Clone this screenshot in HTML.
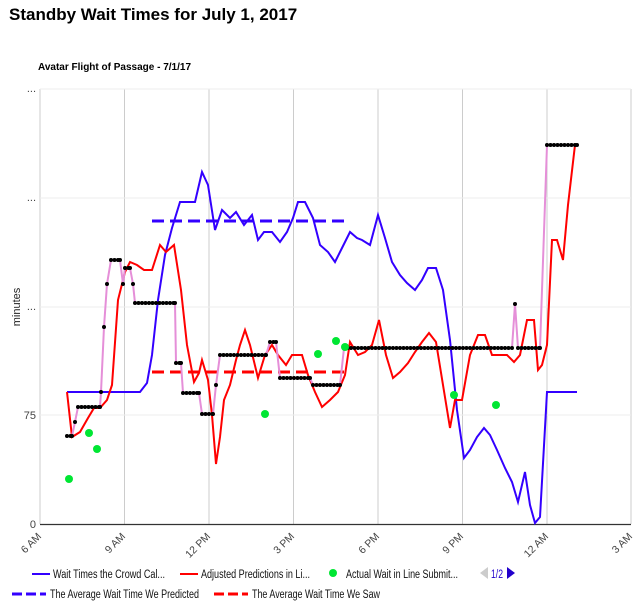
<!DOCTYPE html>
<html><head><meta charset="utf-8"><style>
body{margin:0;background:#fff;font-family:"Liberation Sans",Arial,sans-serif}
</style></head><body>
<svg id="s" width="644" height="607" xmlns="http://www.w3.org/2000/svg" font-family="Liberation Sans, Arial, sans-serif">
<rect width="644" height="607" fill="#fff"/>
<text x="9" y="20" font-size="17" font-weight="bold" fill="#000">Standby Wait Times for July 1, 2017</text>
<text x="38" y="70" font-size="10" font-weight="bold" fill="#000">Avatar Flight of Passage - 7/1/17</text>
<g stroke="#ccc" stroke-width="1">
<line x1="40" y1="89" x2="40" y2="524"/>
<line x1="124.5" y1="89" x2="124.5" y2="524"/>
<line x1="209" y1="89" x2="209" y2="524"/>
<line x1="293.5" y1="89" x2="293.5" y2="524"/>
<line x1="378" y1="89" x2="378" y2="524"/>
<line x1="462.5" y1="89" x2="462.5" y2="524"/>
<line x1="547" y1="89" x2="547" y2="524"/>
<line x1="631" y1="89" x2="631" y2="524"/>
</g>
<g stroke="#eee"><line x1="40" y1="89" x2="631" y2="89"/><line x1="40" y1="198" x2="631" y2="198"/><line x1="40" y1="307" x2="631" y2="307"/><line x1="40" y1="415" x2="631" y2="415"/></g>
<line x1="40" y1="524.5" x2="631" y2="524.5" stroke="#333" stroke-width="1.2"/>
<g font-size="11" fill="#444" text-anchor="end">
<text x="36" y="92">...</text><text x="36" y="201">...</text><text x="36" y="310">...</text>
<text x="36" y="419">75</text><text x="36" y="528">0</text>
</g>
<text transform="translate(20,307) rotate(-90)" font-size="11" fill="#222" text-anchor="middle">minutes</text>
<g font-size="10.5" fill="#444" text-anchor="end">
<text transform="translate(42,537) rotate(-45)">6 AM</text>
<text transform="translate(126,537) rotate(-45)">9 AM</text>
<text transform="translate(211,537) rotate(-45)">12 PM</text>
<text transform="translate(295,537) rotate(-45)">3 PM</text>
<text transform="translate(380,537) rotate(-45)">6 PM</text>
<text transform="translate(464,537) rotate(-45)">9 PM</text>
<text transform="translate(549,537) rotate(-45)">12 AM</text>
<text transform="translate(633,537) rotate(-45)">3 AM</text>
</g>
<line x1="152" y1="221" x2="350" y2="221" stroke="#3300ff" stroke-width="3" stroke-dasharray="12,6"/>
<line x1="152" y1="372" x2="350" y2="372" stroke="#ff0000" stroke-width="3" stroke-dasharray="12,6"/>
<polyline fill="none" stroke="#3300ff" stroke-width="2" points="67,392 140,392 147,383 152,355 158,300 165,255 172,228 180,202 195,202 202,172 208,185 215,230 222,210 230,218 236,212 244,225 252,215 258,240 264,232 272,232 280,242 287,232 293,218 298,202 305,202 313,218 320,245 328,252 335,262 342,248 350,232 357,238 362,240 370,245 378,215 385,238 392,262 400,275 407,283 415,290 422,280 428,268 436,268 443,290 450,340 457,410 464,458 470,450 477,437 484,428 490,435 497,450 505,468 512,482 518,502 525,472 530,505 535,523 540,517 547,392 577,392"/>
<polyline fill="none" stroke="#ff0000" stroke-width="2" points="67,392 72,437 80,432 88,418 94,408 100,408 107,400 112,385 118,300 125,272 130,262 137,265 144,270 152,270 160,245 166,252 174,245 181,290 187,345 194,382 199,373 202,360 208,380 212,415 216,464 220,437 224,400 230,385 236,360 240,345 245,330 250,345 258,378 265,355 272,345 278,355 286,365 292,355 302,355 308,375 315,392 322,407 330,400 338,392 345,375 350,342 358,355 365,352 372,345 379,320 386,355 393,378 400,372 408,363 415,352 422,342 429,333 436,342 443,385 450,428 455,400 462,400 470,355 478,335 485,335 492,355 500,355 507,355 514,362 520,355 527,320 534,320 538,370 542,365 547,345 552,240 557,240 563,260 568,205 575,145"/>
<polyline id="pk" fill="none" stroke="#e58fd8" stroke-width="2" points="67,436 72,436 75,422 78,407 100,407 101,392 104,327 107,284 111,260 120,260 123,284 125,268 130,268 133,284 135,303 175,303 176,363 181,363 183,393 199,393 202,414 213,414 216,385 220,355 266,355 270,342 276,342 280,378 310,378 313,385 340,385 344,348 512,348 515,304 518,348 540,348 547,145 577,145"/>
<g id="dots" fill="#000"></g>
<g fill="#00e633">
<circle cx="69" cy="479" r="4"/><circle cx="89" cy="433" r="4"/><circle cx="97" cy="449" r="4"/><circle cx="265" cy="414" r="4"/><circle cx="318" cy="354" r="4"/><circle cx="336" cy="341" r="4"/><circle cx="345" cy="347" r="4"/><circle cx="454" cy="395" r="4"/><circle cx="496" cy="405" r="4"/>
</g>
<g font-size="11.5" fill="#111">
<line x1="32" y1="574" x2="50" y2="574" stroke="#3300ff" stroke-width="2"/>
<text x="53" y="578" textLength="112" lengthAdjust="spacingAndGlyphs">Wait Times the Crowd Cal...</text>
<line x1="180" y1="574" x2="198" y2="574" stroke="#ff0000" stroke-width="2"/>
<text x="201" y="578" textLength="109" lengthAdjust="spacingAndGlyphs">Adjusted Predictions in Li...</text>
<circle cx="333" cy="573" r="4" fill="#00e633"/>
<text x="346" y="578" textLength="112" lengthAdjust="spacingAndGlyphs">Actual Wait in Line Submit...</text>
<polygon points="480,573 488,567 488,579" fill="#ccc"/>
<text x="491" y="578" fill="#2200cc" textLength="12" lengthAdjust="spacingAndGlyphs">1/2</text>
<polygon points="507,567 507,579 515,573" fill="#2200cc"/>
<line x1="12" y1="594" x2="46" y2="594" stroke="#3300ff" stroke-width="3" stroke-dasharray="10,4"/>
<text x="50" y="598" textLength="149" lengthAdjust="spacingAndGlyphs">The Average Wait Time We Predicted</text>
<line x1="214" y1="594" x2="248" y2="594" stroke="#ff0000" stroke-width="3" stroke-dasharray="10,4"/>
<text x="252" y="598" textLength="128" lengthAdjust="spacingAndGlyphs">The Average Wait Time We Saw</text>
</g>
</svg>
<script>
(function(){
var pts=document.getElementById('pk').getAttribute('points').trim().split(/\s+/).map(function(p){return p.split(',').map(Number)});
var g=document.getElementById('dots'),ns='http://www.w3.org/2000/svg';
function dot(x,y){var c=document.createElementNS(ns,'circle');c.setAttribute('cx',x);c.setAttribute('cy',y);c.setAttribute('r',2);g.appendChild(c);}
for(var i=0;i<pts.length;i++){
 dot(pts[i][0],pts[i][1]);
 if(i<pts.length-1&&pts[i][1]==pts[i+1][1]){
  for(var x=pts[i][0]+3.5;x<pts[i+1][0];x+=3.5)dot(x,pts[i][1]);
 }
}
})();
</script>
</body></html>
